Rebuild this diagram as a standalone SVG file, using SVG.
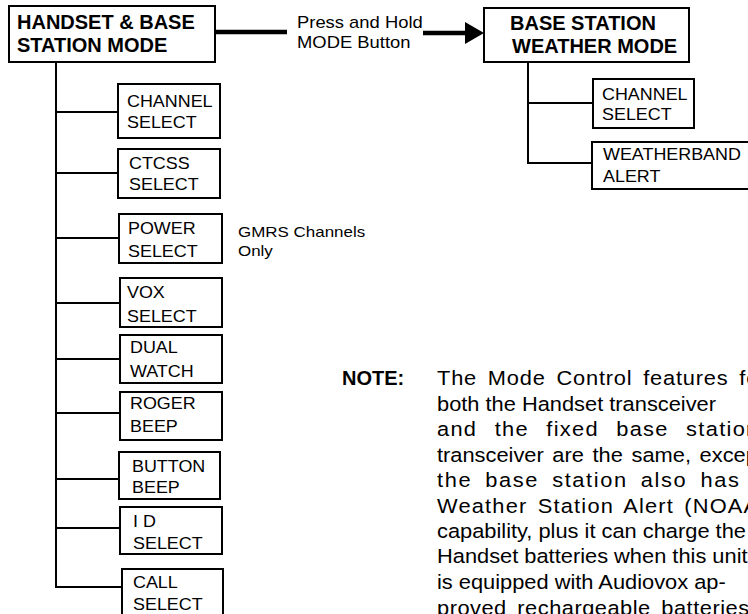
<svg xmlns="http://www.w3.org/2000/svg" width="748" height="614" viewBox="0 0 748 614">
<defs>
<style>
.box{fill:#fff;stroke:#000;stroke-width:2}
.hdr{font-family:"Liberation Sans",Arial,sans-serif;font-weight:bold;font-size:20px;fill:#000}
.lbl{font-family:"Liberation Sans",Arial,sans-serif;font-size:16px;fill:#000}
.note{font-family:"Liberation Sans",Arial,sans-serif;font-size:19.5px;fill:#000}
.ln{fill:none;stroke:#000;stroke-width:2}
.thick{fill:none;stroke:#000;stroke-width:4.5}
</style>
<marker id="ah" markerUnits="userSpaceOnUse" markerWidth="20" markerHeight="24" refX="5" refY="11" orient="auto">
<path d="M0,0 L19,11 L0,22 Z" fill="#000"/>
</marker>
</defs>
<rect width="748" height="614" fill="#fff"/>
<g id="connectors">
<line class="thick" x1="215" y1="32" x2="287" y2="32"/>
<line class="thick" x1="423" y1="33" x2="470" y2="33" marker-end="url(#ah)"/>
<polyline class="ln" points="56,62 56,587 122,587"/>
<line class="ln" x1="56" y1="112" x2="118" y2="112"/>
<line class="ln" x1="56" y1="173" x2="118" y2="173"/>
<line class="ln" x1="56" y1="238" x2="119" y2="238"/>
<line class="ln" x1="56" y1="303" x2="120" y2="303"/>
<line class="ln" x1="56" y1="359" x2="120" y2="359"/>
<line class="ln" x1="56" y1="413" x2="120" y2="413"/>
<line class="ln" x1="56" y1="479" x2="119" y2="479"/>
<line class="ln" x1="56" y1="528" x2="120" y2="528"/>
<polyline class="ln" points="528,62 528,163 592,163"/>
<line class="ln" x1="528" y1="103" x2="593" y2="103"/>
</g>
<g id="handset-mode">
<rect class="box" x="9" y="6" width="206" height="56"/>
<text class="hdr" x="17" y="29">HANDSET &amp; BASE</text>
<text class="hdr" x="17" y="52">STATION MODE</text>
</g>
<g id="press-label">
<text class="lbl" transform="translate(297,28) scale(1.15,1)"><tspan x="0" y="0">Press and Hold</tspan><tspan x="0" y="20">MODE Button</tspan></text>
</g>
<g id="weather-mode">
<rect class="box" x="484" y="8" width="205" height="54"/>
<text class="hdr" x="510" y="30">BASE STATION</text>
<text class="hdr" x="512" y="53">WEATHER MODE</text>
</g>
<g id="w-channel">
<rect class="box" x="593" y="79" width="101" height="49"/>
<text class="lbl" transform="translate(602,100) scale(1.12,1)"><tspan x="0" y="0">CHANNEL</tspan><tspan x="0" y="20">SELECT</tspan></text>
</g>
<g id="w-weatherband">
<rect class="box" x="592" y="142" width="170" height="47"/>
<text class="lbl" transform="translate(603,160) scale(1.12,1)"><tspan x="0" y="0">WEATHERBAND</tspan><tspan x="0" y="22">ALERT</tspan></text>
</g>
<g id="channel">
<rect class="box" x="118" y="84" width="102" height="54"/>
<text class="lbl" transform="translate(127,106.5) scale(1.12,1)"><tspan x="0" y="0">CHANNEL</tspan><tspan x="0" y="22">SELECT</tspan></text>
</g>
<g id="ctcss">
<rect class="box" x="118" y="149" width="102" height="49"/>
<text class="lbl" transform="translate(129,168.5) scale(1.12,1)"><tspan x="0" y="0">CTCSS</tspan><tspan x="0" y="22">SELECT</tspan></text>
</g>
<g id="power">
<rect class="box" x="119" y="214" width="103" height="49"/>
<text class="lbl" transform="translate(128,234) scale(1.12,1)"><tspan x="0" y="0">POWER</tspan><tspan x="0" y="23">SELECT</tspan></text>
</g>
<g id="gmrs-note">
<text class="lbl" style="font-size:15px" transform="translate(238,237) scale(1.13,1)"><tspan x="0" y="0">GMRS Channels</tspan><tspan x="0" y="19">Only</tspan></text>
</g>
<g id="vox">
<rect class="box" x="120" y="278" width="102" height="49"/>
<text class="lbl" transform="translate(127,298) scale(1.12,1)"><tspan x="0" y="0">VOX</tspan><tspan x="0" y="24">SELECT</tspan></text>
</g>
<g id="dual">
<rect class="box" x="120" y="335" width="102" height="48"/>
<text class="lbl" transform="translate(130,353) scale(1.12,1)"><tspan x="0" y="0">DUAL</tspan><tspan x="0" y="24">WATCH</tspan></text>
</g>
<g id="roger">
<rect class="box" x="120" y="392" width="102" height="48"/>
<text class="lbl" transform="translate(130,409) scale(1.12,1)"><tspan x="0" y="0">ROGER</tspan><tspan x="0" y="23">BEEP</tspan></text>
</g>
<g id="button">
<rect class="box" x="119" y="452" width="101" height="47"/>
<text class="lbl" transform="translate(132,472) scale(1.12,1)"><tspan x="0" y="0">BUTTON</tspan><tspan x="0" y="21">BEEP</tspan></text>
</g>
<g id="id">
<rect class="box" x="120" y="507" width="102" height="47"/>
<text class="lbl" transform="translate(133,527) scale(1.12,1)"><tspan x="0" y="0">I D</tspan><tspan x="0" y="22">SELECT</tspan></text>
</g>
<g id="call">
<rect class="box" x="122" y="569" width="101" height="60"/>
<text class="lbl" transform="translate(133,588) scale(1.12,1)"><tspan x="0" y="0">CALL</tspan><tspan x="0" y="22">SELECT</tspan></text>
</g>
<g id="note">
<text class="hdr" x="342" y="385">NOTE:</text>
<text class="note" style="letter-spacing:0.71px;word-spacing:3.57px" transform="translate(437,385) scale(1.12,1)">The Mode Control features for</text>
<text class="note" transform="translate(437,411) scale(1.12,1)">both the Handset transceiver</text>
<text class="note" style="letter-spacing:1.16px;word-spacing:8.93px" transform="translate(437,436) scale(1.12,1)">and the fixed base station</text>
<text class="note" style="word-spacing:2.3px" transform="translate(437,462) scale(1.12,1)">transceiver are the same, except</text>
<text class="note" style="letter-spacing:1.43px;word-spacing:4.9px" transform="translate(437,487) scale(1.12,1)">the base station also has a</text>
<text class="note" style="letter-spacing:1.07px;word-spacing:2.68px" transform="translate(437,513) scale(1.12,1)">Weather Station Alert (NOAA)</text>
<text class="note" transform="translate(437,538) scale(1.12,1)">capability, plus it can charge the</text>
<text class="note" transform="translate(437,563) scale(1.12,1)">Handset batteries when this unit</text>
<text class="note" transform="translate(437,589) scale(1.12,1)">is equipped with Audiovox ap-</text>
<text class="note" style="letter-spacing:0.45px;word-spacing:3.57px" transform="translate(437,615) scale(1.12,1)">proved rechargeable batteries.</text>
</g>
</svg>
